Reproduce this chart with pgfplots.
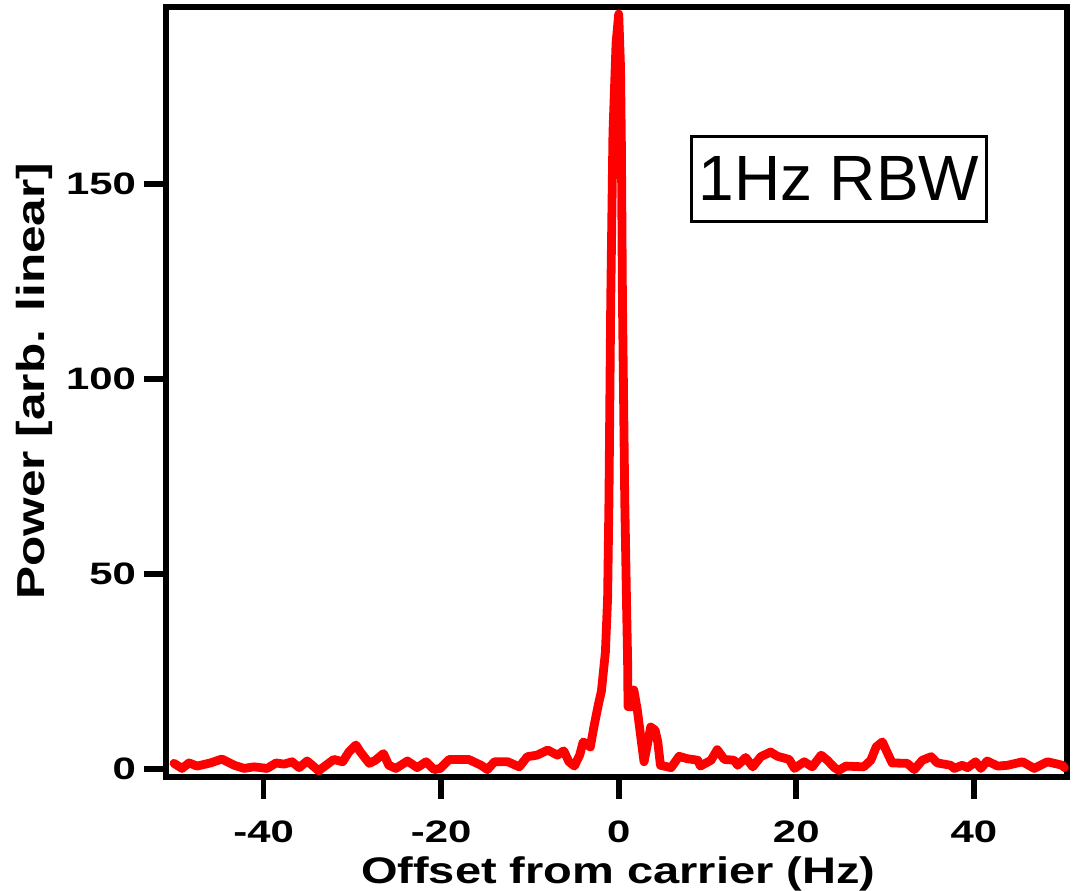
\documentclass[border=0pt]{standalone}
\usepackage{fontspec}
\setmainfont{Liberation Sans}
\newfontfamily\wideb[FakeStretch=1.27]{Liberation Sans Bold}
\newfontfamily\widet[FakeStretch=1.35]{Liberation Sans Bold}
\usepackage{pgfplots}
\pgfplotsset{compat=1.18}
\begin{document}
\begin{tikzpicture}
\useasboundingbox (-83pt,-56.5pt) rectangle (455.5pt,388.5pt);
\begin{axis}[
  at={(0,0)}, anchor=south west,
  scale only axis, width=450.5pt, height=385pt,
  xmin=-51, xmax=50.5, ymin=-2, ymax=195.3,
  axis line style={line width=2.8pt},
  xtick={-40,-20,0,20,40}, ytick={0,50,100,150},
  tick align=outside, xtick pos=lower, ytick pos=left,
  major tick length=11pt,
  every tick/.style={black, line width=2.8pt},
  /pgf/number format/assume math mode=true,
  ticklabel style={font=\widet\fontsize{15.5}{15.5}\selectfont},
  xticklabel style={yshift=-7.5pt},
  yticklabel style={xshift=-0.5pt},
  xlabel={Offset from carrier (Hz)},
  ylabel={Power [arb. linear]},
  xlabel style={font=\wideb\fontsize{18.5}{18.5}\selectfont, at={(axis description cs:0.502,0)}, anchor=base, yshift=-53pt},
  ylabel style={font=\wideb\fontsize{19.5}{19.5}\selectfont, at={(axis description cs:-0.1455,0.514)}, anchor=center},
  clip=false,
]
\addplot[red, line width=4.4pt, line join=round, line cap=round] coordinates {
(-50.1,1.5) (-49.2,0.2) (-48.4,1.6) (-47.5,0.8) (-46.0,1.6) (-44.7,2.6) (-43.3,1.0) (-42.2,0.2)
(-41.1,0.6) (-39.6,0.2) (-38.6,1.6) (-37.7,1.3) (-36.8,1.9) (-36.0,0.4) (-35.1,2.1) (-33.8,-0.4)
(-32.1,2.5) (-31.1,1.9) (-30.4,4.4) (-29.6,6.2) (-29.1,4.4) (-28.1,1.5) (-27.4,2.3) (-26.5,4.0)
(-25.9,1.0) (-25.1,0.2) (-23.8,2.1) (-22.7,0.4) (-21.7,1.9) (-20.8,-0.1) (-20.1,0.2) (-19.1,2.5)
(-16.9,2.5) (-15.5,1.0) (-14.8,-0.1) (-14.0,1.9) (-12.5,1.9) (-11.2,0.6) (-10.3,3.2) (-9.2,3.6)
(-8.0,4.9) (-6.9,3.6) (-6.2,4.7) (-5.6,1.9) (-5.0,0.8) (-4.4,3.6) (-4.0,7.0) (-3.2,5.7)
(-2.8,10.8) (-2.3,16.5) (-1.95,20) (-1.5,30) (-1.25,44) (-1.1,69) (-0.9,120) (-0.65,163)
(-0.3,186) (0,193.5) (0.2,180) (0.3,160) (0.42,120) (0.68,69) (0.9,40) (1.0,28) (1.05,16)
(1.5,16) (1.7,20.3) (2.1,15.1) (2.5,8) (2.85,1.9) (3.2,6) (3.6,10.8) (4.1,10) (4.4,7) (4.7,1.0)
(5.9,0.4) (6.8,3.3) (7.7,2.7) (8.9,2.3) (9.2,0.8) (10.4,2.3) (11.1,5.0) (11.9,2.5) (13.0,2.3)
(13.4,1.0) (14.3,3.0) (15.1,0.6) (16.0,3.2) (17.1,4.4) (17.9,3.3) (19.2,2.5) (19.8,0.2) (20.9,1.9)
(21.8,0.6) (22.8,3.6) (23.5,2.3) (24.3,0.4) (24.8,-0.3) (25.6,0.8) (27.6,0.6) (28.4,2.3) (29.0,5.7)
(29.7,7.0) (30.3,4.0) (30.8,1.6) (32.5,1.5) (33.3,-0.1) (34.2,2.3) (35.2,3.2) (35.9,1.6) (37.4,1.0)
(37.8,0.2) (38.7,1.0) (39.3,0.4) (40.2,1.9) (40.8,0.2) (41.5,2.1) (42.7,0.8) (43.8,1.0) (45.5,1.9)
(46.8,0.2) (48.3,1.9) (50.0,1.0) (50.2,0.4)
};
\node[draw, line width=1.5pt, minimum width=147.5pt, minimum height=42.5pt, inner sep=0pt,
  font=\fontsize{32}{32}\selectfont] at (axis cs:24.8,151.3) {1Hz RBW};
\end{axis}
\end{tikzpicture}
\end{document}
